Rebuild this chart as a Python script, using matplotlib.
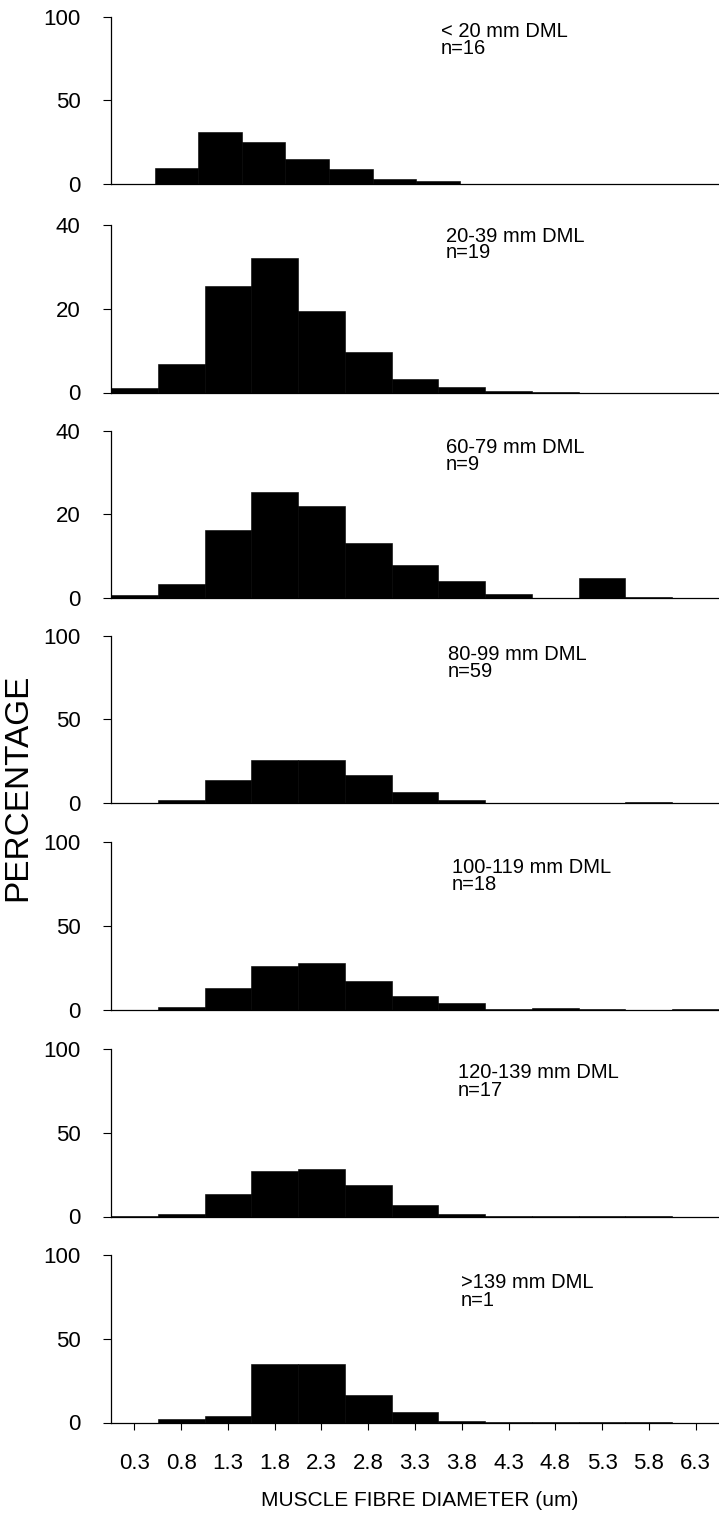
#!/usr/bin/env python
# -*- coding: utf-8 -*-

"""
Distribucio del diametre de les fibres musculars per classe de talla (DML).
Set histogrames apilats, un per classe.
"""

import numpy as np

import matplotlib as mpl
mpl.use('Agg')

mpl.rcParams.update({'font.family': ['Liberation Sans', 'DejaVu Sans']})

import matplotlib.pyplot as plt


# centres de classe del diametre (um)
diametres = [0.3, 0.8, 1.3, 1.8, 2.3, 2.8, 3.3, 3.8, 4.3, 4.8, 5.3, 5.8, 6.3]
etiquetes_x = ['0.3', '0.8', '1.3', '1.8', '2.3', '2.8', '3.3', '3.8',
               '4.3', '4.8', '5.3', '5.8', '6.3']

# classes de talla i mida de mostra
classes = ['< 20 mm DML', '20-39 mm DML', '60-79 mm DML', '80-99 mm DML',
           '100-119 mm DML', '120-139 mm DML', '>139 mm DML']
mostres = [16, 19, 9, 59, 18, 17, 1]

# percentatge per classe de diametre
pct_lt20 = [0, 9.7, 31.0, 25.0, 15.2, 8.9, 3.0, 1.8, 0.3, 0.3, 0.3, 0.3, 0.2]
pct_20_39 = [1.0, 6.8, 25.4, 32.2, 19.5, 9.7, 3.3, 1.3, 0.3, 0.2, 0, 0, 0]
pct_60_79 = [0.8, 3.3, 16.3, 25.4, 22.0, 13.3, 7.9, 4.1, 0.9, 0, 4.8, 0.2, 0]
pct_80_99 = [0, 2.2, 13.7, 25.7, 25.7, 17.1, 6.6, 1.8, 0.3, 0.3, 0.2, 0.5, 0]
pct_100_119 = [0, 1.6, 12.9, 26.0, 27.8, 17.1, 8.2, 4.2, 0.6, 1.0, 0.3, 0,
               0.5]
pct_120_139 = [0.2, 1.2, 13.5, 27.0, 28.2, 18.9, 6.8, 1.6, 0.3, 0.3, 0.2,
               0.2, 0]
pct_gt139 = [0, 2.0, 3.8, 35.2, 34.8, 16.6, 6.2, 1.0, 0.2, 0.2, 0.2, 0.2, 0]

# limit superior i marques de l'eix y per panell
ymax = [100, 40, 40, 100, 100, 100, 100]
yticks = [[0, 50, 100], [0, 20, 40], [0, 20, 40], [0, 50, 100],
          [0, 50, 100], [0, 50, 100], [0, 50, 100]]


def main():
    """
    main
    """
    dades = [pct_lt20, pct_20_39, pct_60_79, pct_80_99, pct_100_119,
             pct_120_139, pct_gt139]
    plot_panels(dades, 'out.png')


def plot_panels(dades, fname, dpi=100):
    """
    dibuixa els set histogrames un sota l'altre
    """
    W, H = 719, 1518
    fig = plt.figure(figsize=(W / dpi, H / dpi), dpi=dpi)

    # posicio dels panells en pixels (part superior de l'eix)
    tops = [16.7, 225, 430.7, 635.7, 842.3, 1049, 1255]
    alt = 167.5
    x0, x1 = 111, 719
    # posicio de les etiquetes (x esquerra, distancia des de dalt)
    txt_x = [441, 446, 446, 448, 452, 458, 461]
    txt_dy = [15, 11, 17, 19, 25, 24, 28]

    for i, vals in enumerate(dades):
        ax = fig.add_axes([x0 / W, 1 - (tops[i] + alt) / H,
                           (x1 - x0) / W, alt / H])
        ax.bar(diametres, vals, width=0.5, color='black',
               edgecolor='black', linewidth=0.4, align='center')

        # el primer panell te l'eix x una mica mes llarg
        if i == 0:
            ax.set_xlim(0.05, 7.02)
        else:
            ax.set_xlim(0.05, 6.55)
        ax.set_ylim(0, ymax[i])
        ax.set_yticks(yticks[i])
        ax.tick_params(axis='y', direction='out', length=6, width=0.8,
                       pad=16, labelsize=16)

        for s in ['top', 'right']:
            ax.spines[s].set_visible(False)
        for s in ['left', 'bottom']:
            ax.spines[s].set_linewidth(0.9)

        if i == len(dades) - 1:
            ax.set_xticks(diametres)
            ax.set_xticklabels(etiquetes_x)
            ax.tick_params(axis='x', direction='out', length=5, width=0.8,
                           pad=17, labelsize=16)
        else:
            ax.set_xticks([])

        ytxt = tops[i] + txt_dy[i]
        fig.text(txt_x[i] / W, 1 - ytxt / H, classes[i], fontsize=14.5,
                 ha='left', va='center')
        fig.text(txt_x[i] / W, 1 - (ytxt + 17) / H, 'n=%d' % mostres[i],
                 fontsize=14.5, ha='left', va='center')

    fig.text(420 / W, 1 - 1500 / H, 'MUSCLE FIBRE DIAMETER (um)',
             fontsize=15, ha='center', va='center')
    fig.text(18 / W, 1 - 787 / H, 'PERCENTAGE', fontsize=24,
             rotation=90, ha='center', va='center')

    fig.savefig(fname, dpi=dpi)
    plt.close(fig)


if __name__ == "__main__":
    main()
